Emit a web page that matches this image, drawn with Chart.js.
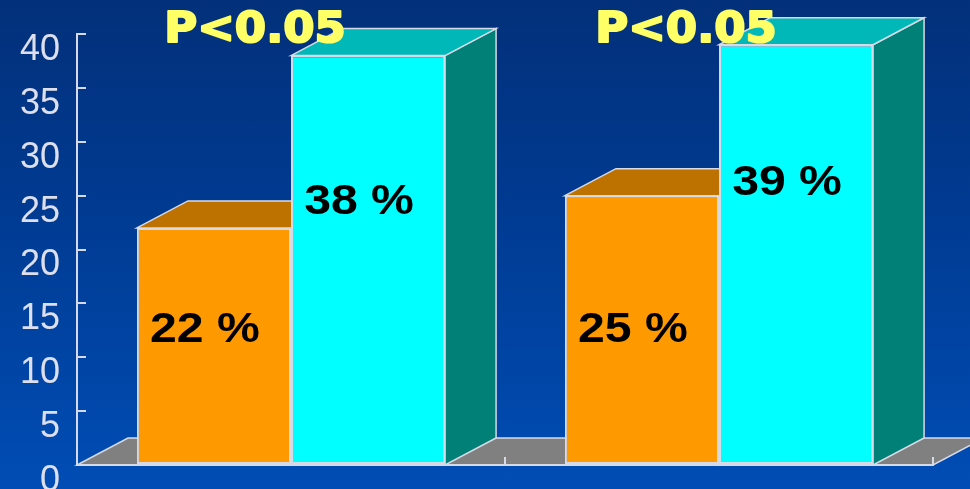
<!DOCTYPE html>
<html>
<head>
<meta charset="utf-8">
<style>
  html, body { margin: 0; padding: 0; }
  body {
    width: 970px;
    height: 489px;
    overflow: hidden;
    background: linear-gradient(to bottom, #03307a 0%, #003a90 40%, #004db5 100%);
  }
  canvas { display: block; }
</style>
</head>
<body>
<canvas id="myChart" width="970" height="489"></canvas>
<script src="https://cdn.jsdelivr.net/npm/chart.js@4/dist/chart.umd.min.js"></script>
<script>
const GROUPS = ['A', 'B'];
const ORANGE_VALUES = [22, 25];
const CYAN_VALUES = [38, 39];
const Y_TICKS = [0, 5, 10, 15, 20, 25, 30, 35, 40];
const P_LABELS = ['P<0.05', 'P<0.05'];

// where the percent labels sit
const ORANGE_LABEL_AT = [12.5, 12.5];
const CYAN_LABEL_AT = [24.4, 26.15];

const DEPTH_X = 51;
const DEPTH_Y = 27;
const LINE = '#d6dae6';

const poly = (ctx, pts, fill) => {
  ctx.beginPath();
  pts.forEach((p, i) => i ? ctx.lineTo(p[0], p[1]) : ctx.moveTo(p[0], p[1]));
  ctx.closePath();
  ctx.fillStyle = fill;
  ctx.fill();
  ctx.lineWidth = 1.5;
  ctx.strokeStyle = LINE;
  ctx.stroke();
};

const stretchedText = (ctx, text, x, y, font, sx, color, outline) => {
  ctx.save();
  ctx.translate(x, y);
  ctx.scale(sx, 1);
  ctx.font = font;
  ctx.textAlign = 'center';
  ctx.textBaseline = 'middle';
  if (outline) {
    ctx.lineWidth = 2;
    ctx.lineJoin = 'round';
    ctx.strokeStyle = outline;
    ctx.strokeText(text, 0, 0);
  }
  ctx.fillStyle = color;
  ctx.fillText(text, 0, 0);
  ctx.restore();
};

// Chart.js has no 3d bars so the floor, tops and sides go in behind the datasets
const depthPlugin = {
  id: 'depth',
  beforeDatasetsDraw(chart) {
    const { ctx, scales: { x, y } } = chart;
    const base = y.getPixelForValue(0);

    ctx.save();
    poly(ctx, [
      [x.left, base],
      [x.left + DEPTH_X, base - DEPTH_Y],
      [x.right + DEPTH_X, base - DEPTH_Y],
      [x.right, base]
    ], '#808080');

    const colors = [
      { top: '#bd7200', side: '#bd7200' },
      { top: '#00b8b8', side: '#008077' }
    ];
    chart.data.datasets.forEach((ds, d) => {
      chart.getDatasetMeta(d).data.forEach((bar) => {
        const l = bar.x - bar.width / 2;
        const r = bar.x + bar.width / 2;
        poly(ctx, [
          [r, bar.y],
          [r + DEPTH_X, bar.y - DEPTH_Y],
          [r + DEPTH_X, base - DEPTH_Y],
          [r, base]
        ], colors[d].side);
        poly(ctx, [
          [l, bar.y],
          [l + DEPTH_X, bar.y - DEPTH_Y],
          [r + DEPTH_X, bar.y - DEPTH_Y],
          [r, bar.y]
        ], colors[d].top);
      });
    });
    ctx.restore();
  },
  afterDatasetsDraw(chart) {
    const { ctx, scales: { x, y } } = chart;
    const labelFont = 'bold 43px "Liberation Sans"';

    chart.data.datasets.forEach((ds, d) => {
      const at = d === 0 ? ORANGE_LABEL_AT : CYAN_LABEL_AT;
      chart.getDatasetMeta(d).data.forEach((bar, i) => {
        stretchedText(ctx, ds.data[i] + ' %', bar.x - 9, y.getPixelForValue(at[i]), labelFont, 1.12, '#000000');
      });
    });

    P_LABELS.forEach((text, i) => {
      stretchedText(ctx, text, x.getPixelForValue(i) - 36 + i * 3, 31, 'bold 42px "DejaVu Sans"', 1.07, '#ffff66', '#ffff66');
    });
  }
};

new Chart(document.getElementById('myChart'), {
  type: 'bar',
  data: {
    labels: GROUPS,
    datasets: [
      { data: ORANGE_VALUES, backgroundColor: '#ff9900' },
      { data: CYAN_VALUES, backgroundColor: '#00ffff' }
    ]
  },
  options: {
    responsive: false,
    animation: false,
    layout: { padding: { top: 34, right: 37, bottom: 24, left: 0 } },
    datasets: {
      bar: {
        categoryPercentage: 0.72,
        barPercentage: 1,
        borderWidth: 2,
        borderColor: LINE,
        borderSkipped: false
      }
    },
    plugins: {
      legend: { display: false },
      tooltip: { enabled: false }
    },
    scales: {
      x: {
        afterFit(scale) { scale.height = 0; },
        grid: { drawOnChartArea: false, color: LINE, tickLength: -8, lineWidth: 2, z: 1 },
        border: { color: LINE, width: 2, z: 1 },
        ticks: { display: false }
      },
      y: {
        min: 0,
        max: 40,
        afterFit(scale) {
          scale.width = 77;
          scale.paddingTop = 0;
          scale.paddingBottom = 0;
        },
        afterBuildTicks(scale) { scale.ticks = Y_TICKS.map(value => ({ value })); },
        grid: { drawOnChartArea: false, color: LINE, tickLength: -9, lineWidth: 2 },
        border: { color: LINE, width: 2 },
        ticks: {
          color: '#dde0ec',
          padding: 26,
          labelOffset: 16,
          font: { family: '"Liberation Sans"', size: 36 }
        }
      }
    }
  },
  plugins: [depthPlugin]
});
</script>
</body>
</html>
